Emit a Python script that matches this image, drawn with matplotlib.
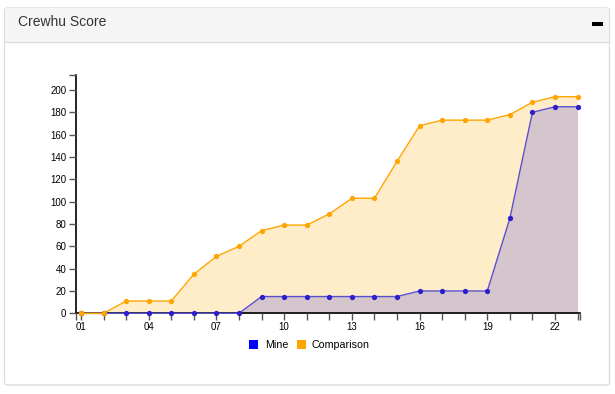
import matplotlib.pyplot as plt
from matplotlib.patches import FancyBboxPatch, Rectangle
from matplotlib.lines import Line2D

plt.rcParams['font.family'] = ['Liberation Sans', 'DejaVu Sans']

days = list(range(1, 24))
day_labels = ['%02d' % d for d in days]
mine = [0, 0, 0, 0, 0, 0, 0, 0, 15, 15, 15, 15, 15, 15, 15, 20, 20, 20, 20, 85, 180, 185, 185]
comparison = [0, 0, 11, 11, 11, 35, 51, 60, 74, 79, 79, 89, 103, 103, 136, 168, 173, 173, 173, 178, 189, 194, 194]

W, H = 615, 394
fig = plt.figure(figsize=(W / 100, H / 100), dpi=100)

# card panel
card = FancyBboxPatch((4.5 / W, (H - 385) / H), 605 / W, 377 / H,
                      boxstyle='round,pad=0,rounding_size=0.006',
                      transform=fig.transFigure, facecolor='white',
                      edgecolor='#dddddd', linewidth=1, zorder=-10)
fig.patches.append(card)
header = Rectangle((5 / W, (H - 42) / H), 604 / W, 34 / H, transform=fig.transFigure,
                   facecolor='#f5f5f5', edgecolor='none', zorder=-9)
fig.patches.append(header)
fig.lines.append(Line2D([5 / W, 609 / W], [(H - 42) / H] * 2, transform=fig.transFigure,
                        color='#dddddd', linewidth=1, zorder=-8))
fig.text(18 / W, (H - 22) / H, 'Crewhu Score', fontsize=10, color='#333333', va='center')
fig.patches.append(Rectangle((592 / W, (H - 25.5) / H), 11 / W, 3.5 / H, transform=fig.transFigure,
                             facecolor='black', edgecolor='none'))

# plot area
x0, x1 = 76, 580
y_bottom, y_top = 313.3, 74.7
ax = fig.add_axes([x0 / W, (H - y_bottom) / H, (x1 - x0) / W, (y_bottom - y_top) / H])
ax.set_zorder(5)
ax.set_facecolor('none')
px_per_day = (555 - 81) / 21
ax.set_xlim(1 - (81 - x0) / px_per_day, 1 + (x1 - 81) / px_per_day)
px_per_unit = (313.3 - 90) / 200
ax.set_ylim(0, (y_bottom - y_top) / px_per_unit)

ax.fill_between(days, comparison, color='#ffecc9', linewidth=0, zorder=1)
ax.fill_between(days, mine, color='#d5c5cd', linewidth=0, zorder=1.1)
ax.plot(days, mine, color='#5a4fcf', linewidth=1, marker='o', markersize=3.8,
        markeredgewidth=0, markerfacecolor='#2b1fcf', clip_on=False, zorder=3)
ax.plot(days, comparison, color='#ffa500', linewidth=1, marker='o', markersize=3.8,
        markeredgewidth=0, markerfacecolor='#ffa500', clip_on=False, zorder=2.5)
# the flat start where both are zero shows comparison on top
ax.plot(days[:2], comparison[:2], color='#ffa500', linewidth=1, marker='o', markersize=3.8,
        markeredgewidth=0, clip_on=False, zorder=3.5)

for s in ['top', 'right']:
    ax.spines[s].set_visible(False)
for s in ['left', 'bottom']:
    ax.spines[s].set_color('black')
    ax.spines[s].set_linewidth(1.2)
    ax.spines[s].set_zorder(1.5)

ax.set_xticks(days)
ax.set_xticklabels([lab if (d - 1) % 3 == 0 else '' for d, lab in zip(days, day_labels)])
ax.set_yticks(range(0, 201, 20))
ax.set_xticks([ax.get_xlim()[0], ax.get_xlim()[1]], minor=True)
ax.set_yticks([ax.get_ylim()[1]], minor=True)
ax.tick_params(axis='both', which='both', length=5, width=1, color='#555555',
               labelsize=7, labelcolor='black', pad=2)
ax.tick_params(axis='x', which='major', pad=1.5)

# legend
fig.patches.append(Rectangle((249 / W, (H - 349) / H), 9 / W, 9 / H, transform=fig.transFigure,
                             facecolor='#0000ff', edgecolor='none'))
fig.text(265 / W, (H - 344.5) / H, 'Mine', fontsize=7.7, va='center')
fig.patches.append(Rectangle((297 / W, (H - 349) / H), 9 / W, 9 / H, transform=fig.transFigure,
                             facecolor='#ffa500', edgecolor='none'))
fig.text(311 / W, (H - 344.5) / H, 'Comparison', fontsize=7.7, va='center')

fig.savefig('out.png', dpi=100)
